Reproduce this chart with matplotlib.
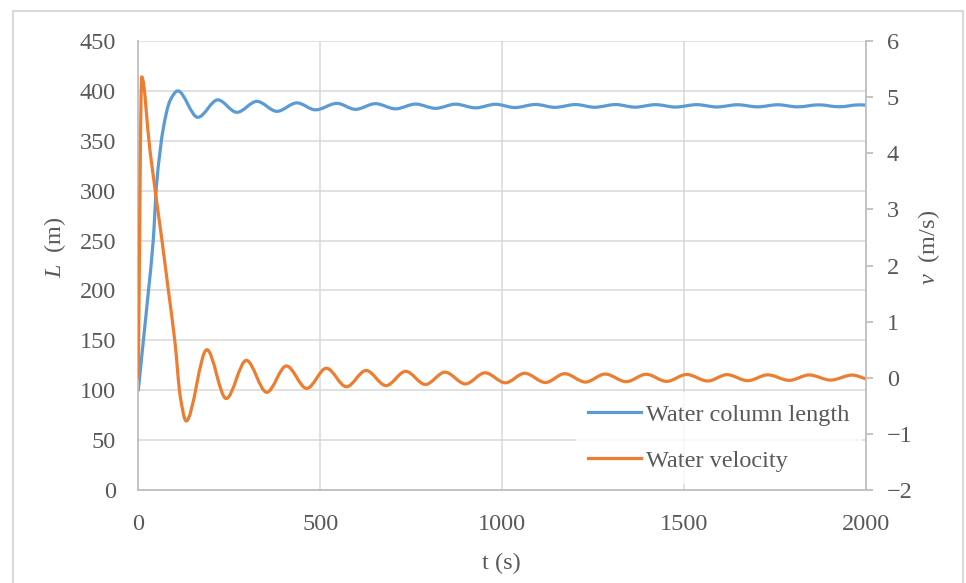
import numpy as np
import matplotlib
matplotlib.use("Agg")
import matplotlib.pyplot as plt
from matplotlib.path import Path
from matplotlib.patches import PathPatch, Rectangle
from matplotlib.lines import Line2D

# ---------------------------------------------------------------------------
# Data (peaks / troughs / turning points)
# ---------------------------------------------------------------------------
t_length = [0, 14, 28, 41, 50, 69, 87, 108.5, 163.5, 218.5, 271, 326, 381, 436,
            487, 546, 597, 652, 707, 762, 817, 872, 927, 982, 1035, 1092, 1145,
            1202, 1254, 1312, 1365, 1422, 1476, 1535, 1590, 1647, 1702, 1757,
            1812, 1870, 1926, 1982, 2000]
length_m = [100, 150, 200, 250, 305, 363, 390, 400, 373.5, 391, 378.5, 389.5,
            379.5, 388, 381, 387.5, 381.5, 387.2, 382, 386.8, 382.5, 386.7, 383,
            386.6, 383.3, 386.4, 383.5, 386.3, 383.6, 386.3, 383.7, 386.2, 383.8,
            386.2, 383.9, 386.1, 384, 386.1, 384, 386, 384.1, 386, 385.7]

t_velocity = [0, 9.4, 32, 64.6, 82.6, 101, 115, 131.5, 188.5, 241.5, 297, 353,
              407, 463, 517, 572, 626, 681, 735, 789, 843, 899, 953, 1009, 1062,
              1119, 1172, 1229, 1283, 1341, 1396, 1452, 1507, 1565, 1618, 1675,
              1730, 1789, 1844, 1903, 1962, 2000]
velocity_ms = [0.0, 5.36, 4.05, 2.47, 1.56, 0.62, -0.32, -0.77, 0.50, -0.37, 0.31,
               -0.26, 0.21, -0.19, 0.17, -0.16, 0.13, -0.14, 0.115, -0.12, 0.10,
               -0.11, 0.088, -0.09, 0.08, -0.085, 0.073, -0.077, 0.066, -0.07,
               0.062, -0.065, 0.058, -0.058, 0.055, -0.052, 0.052, -0.047, 0.05,
               -0.042, 0.048, -0.02]

x_ticks = [0, 500, 1000, 1500, 2000]
l_ticks = [0, 50, 100, 150, 200, 250, 300, 350, 400, 450]
v_ticks = [-2, -1, 0, 1, 2, 3, 4, 5, 6]

BLUE = "#5B9BD5"
ORANGE = "#ED7D31"
TEXT = "#595959"
GRID = "#D9D9D9"
SPINE = "#BFBFBF"

plt.rcParams["font.family"] = ["Liberation Serif", "DejaVu Serif"]
plt.rcParams["mathtext.fontset"] = "custom"
plt.rcParams["mathtext.it"] = "Liberation Serif:italic"
plt.rcParams["mathtext.rm"] = "Liberation Serif"
FS = 17.5


def smooth_path(x, y):
    """Monotone cubic (Excel-like smoothed line) as a Bezier path in data coords."""
    x = np.asarray(x, float)
    y = np.asarray(y, float)
    h = np.diff(x)
    d = np.diff(y) / h
    m = np.zeros_like(y)
    m[0], m[-1] = d[0], d[-1]
    for k in range(1, len(x) - 1):
        if d[k - 1] * d[k] <= 0:
            m[k] = 0.0
        else:
            w1 = 2 * h[k] + h[k - 1]
            w2 = h[k] + 2 * h[k - 1]
            m[k] = (w1 + w2) / (w1 / d[k - 1] + w2 / d[k])
    verts = [(x[0], y[0])]
    codes = [Path.MOVETO]
    for i in range(len(x) - 1):
        verts += [(x[i] + h[i] / 3, y[i] + m[i] * h[i] / 3),
                  (x[i + 1] - h[i] / 3, y[i + 1] - m[i + 1] * h[i] / 3),
                  (x[i + 1], y[i + 1])]
        codes += [Path.CURVE4] * 3
    return Path(verts, codes)


fig = plt.figure(figsize=(9.66, 5.83), dpi=100)
W, H = 966, 583
ax = fig.add_axes([138.3 / W, 1 - 490 / H, (866 - 138.3) / W, (490 - 41) / H])
ax2 = ax.twinx()

# chart-area frame
fig.patches.append(Rectangle((13 / W, -0.05), (963 - 13) / W, 1 - 11 / H + 0.05,
                             transform=fig.transFigure, fill=False,
                             edgecolor=GRID, linewidth=1.5))

ax.set_xlim(0, 2000)
ax.set_ylim(0, 450)
ax2.set_ylim(-2, 6)
ax.set_xticks(x_ticks)
ax.set_yticks(l_ticks)
ax2.set_yticks(v_ticks)
ax.set_xticklabels([str(v) for v in x_ticks])
ax2.set_yticklabels([str(v).replace("-", "\u2212") for v in v_ticks])

ax.grid(True, color=GRID, linewidth=1.1)
ax.set_axisbelow(True)
for s in ["top", "right"]:
    ax.spines[s].set_visible(False)
for s in ["top", "left", "bottom"]:
    ax2.spines[s].set_visible(False)
for s in ["left", "bottom"]:
    ax.spines[s].set_color(SPINE)
    ax.spines[s].set_linewidth(1.3)
ax2.spines["right"].set_color(SPINE)
ax2.spines["right"].set_linewidth(1.3)

ax.tick_params(axis="both", length=0, labelsize=FS, labelcolor=TEXT)
ax.tick_params(axis="y", pad=16)
ax.tick_params(axis="x", pad=17)
ax2.tick_params(axis="y", length=5, width=1.3, color=SPINE, labelsize=FS,
                labelcolor=TEXT, pad=10)

ax.add_patch(PathPatch(smooth_path(t_length, length_m), fill=False,
                       edgecolor=BLUE, linewidth=2.3, capstyle="round",
                       joinstyle="round"))
ax2.add_patch(PathPatch(smooth_path(t_velocity, velocity_ms), fill=False,
                        edgecolor=ORANGE, linewidth=2.3, capstyle="round",
                        joinstyle="round"))

fig.text(501 / W, 1 - 563 / H, "t (s)", fontsize=FS, color=TEXT,
         ha="center", va="center")
fig.text(55 / W, 1 - 247 / H, r"$L$  (m)", fontsize=FS, color=TEXT,
         ha="center", va="center", rotation=90)
fig.text(929 / W, 1 - 247 / H, r"$v$  (m/s)", fontsize=FS, color=TEXT,
         ha="center", va="center", rotation=90)

handles = [Line2D([], [], color=BLUE, linewidth=2.3),
           Line2D([], [], color=ORANGE, linewidth=2.3)]
leg = fig.legend(handles, ["Water column length", "Water velocity"],
                 loc="upper left", bbox_to_anchor=(576 / W, 1 - 392 / H),
                 bbox_transform=fig.transFigure, frameon=True, fancybox=False,
                 fontsize=FS, handlelength=2.2, handletextpad=0.22,
                 labelspacing=1.0, borderpad=0.48, borderaxespad=0)
leg.get_frame().set_facecolor("white")
leg.get_frame().set_edgecolor("none")
for txt in leg.get_texts():
    txt.set_color(TEXT)

fig.savefig("out.png", dpi=100)
